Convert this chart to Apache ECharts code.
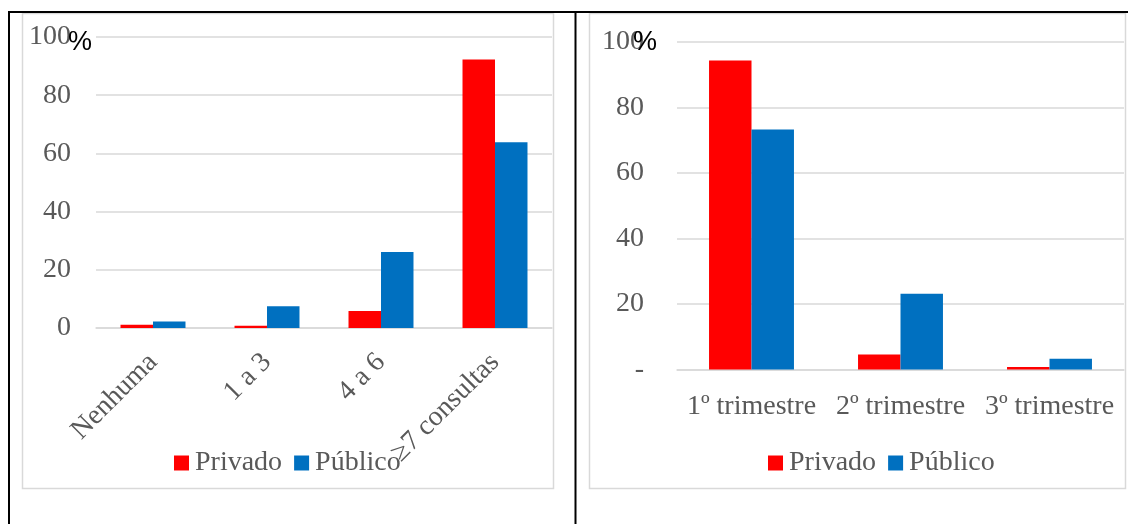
<!DOCTYPE html>
<html>
<head>
<meta charset="utf-8">
<script src="https://cdn.jsdelivr.net/npm/echarts@6/dist/echarts.min.js"></script>
<style>
  html, body { margin: 0; padding: 0; background: #ffffff; }
  #chart { width: 1128px; height: 524px; }
</style>
</head>
<body>
<div id="chart"></div>
<script>
// Number of prenatal consultations, by sector (%)
const consultasCats = ['Nenhuma', '1 a 3', '4 a 6', '≥7 consultas'];
const consultasPrivado = [1.1, 0.8, 5.8, 92.3];
const consultasPublico = [2.2, 7.5, 26.1, 63.8];

// Trimester of the first consultation, by sector (%)
const trimCats = ['1º trimestre', '2º trimestre', '3º trimestre'];
const trimPrivado = [94.3, 4.6, 0.8];
const trimPublico = [73.2, 23.1, 3.3];

const seriesNames = ['Privado', 'Público'];
const yTicks = [0, 20, 40, 60, 80, 100];

const RED = '#FF0000';
const BLUE = '#0070C0';
const GREY_TEXT = '#595959';
const GRID_LINE = '#D9D9D9';
const SERIF = '"Liberation Serif", "Times New Roman", serif';

const chart = echarts.init(document.getElementById('chart'), null, { renderer: 'canvas' });

function valueAxis(gridIndex, zeroLabel, margin) {
  return {
    type: 'value', gridIndex: gridIndex,
    min: yTicks[0], max: yTicks[yTicks.length - 1], interval: yTicks[1] - yTicks[0],
    axisLine: { show: false }, axisTick: { show: false },
    splitLine: { lineStyle: { color: GRID_LINE, width: 1.5 } },
    axisLabel: {
      color: GREY_TEXT, fontFamily: SERIF, fontSize: 28, margin: margin,
      formatter: v => (v === 0 ? zeroLabel : String(v))
    }
  };
}

function categoryAxis(gridIndex, data, rotate, margin) {
  return {
    type: 'category', gridIndex: gridIndex, data: data,
    axisLine: { lineStyle: { color: GRID_LINE, width: 1.5 } },
    axisTick: { show: false },
    axisLabel: {
      color: GREY_TEXT, fontFamily: SERIF, fontSize: 28, margin: margin,
      rotate: rotate, interval: 0
    }
  };
}

function barSeries(name, color, idx, data) {
  return {
    type: 'bar', name: name, xAxisIndex: idx, yAxisIndex: idx, data: data,
    barGap: '0%', barCategoryGap: '43%',
    itemStyle: { color: color },
    emphasis: { disabled: true }
  };
}

function legendAt(left, top) {
  return {
    left: left, top: top, data: seriesNames, padding: 0,
    icon: 'rect', itemWidth: 15, itemHeight: 15, itemGap: 12,
    selectedMode: false,
    textStyle: { color: GREY_TEXT, fontFamily: SERIF, fontSize: 28, padding: [0, 0, 0, 1] }
  };
}

const percentText = (x, y) => ({
  type: 'text', left: x, top: y, z: 100,
  style: { text: '%', fill: '#000000', fontSize: 27, fontFamily: '"Liberation Sans", Arial, sans-serif' }
});

chart.setOption({
  animation: false,
  backgroundColor: '#ffffff',
  color: [RED, BLUE],
  grid: [
    { left: 96, top: 37, width: 456, height: 291 },
    { left: 677, top: 41.7, width: 447, height: 327.8 }
  ],
  xAxis: [
    categoryAxis(0, consultasCats, 45, 30),
    categoryAxis(1, trimCats, 0, 23)
  ],
  yAxis: [
    valueAxis(0, '0', 25),
    valueAxis(1, '-', 33)
  ],
  legend: [legendAt(174, 449), legendAt(768, 449)],
  series: [
    barSeries(seriesNames[0], RED, 0, consultasPrivado),
    barSeries(seriesNames[1], BLUE, 0, consultasPublico),
    barSeries(seriesNames[0], RED, 1, trimPrivado),
    barSeries(seriesNames[1], BLUE, 1, trimPublico)
  ],
  graphic: [
    // table rules
    { type: 'rect', shape: { x: 8, y: 11, width: 1120, height: 2 }, style: { fill: '#000' } },
    { type: 'rect', shape: { x: 8, y: 11, width: 2, height: 513 }, style: { fill: '#000' } },
    { type: 'rect', shape: { x: 574.5, y: 11, width: 2, height: 513 }, style: { fill: '#000' } },
    // chart frames
    { type: 'rect', z: -1, shape: { x: 22.5, y: 13.5, width: 531, height: 475 },
      style: { fill: 'none', stroke: GRID_LINE, lineWidth: 1.5 } },
    { type: 'rect', z: -1, shape: { x: 589.5, y: 13.5, width: 536, height: 475 },
      style: { fill: 'none', stroke: GRID_LINE, lineWidth: 1.5 } },
    // unit marks beside the top tick
    percentText(68, 29),
    percentText(633, 29)
  ]
});
</script>
</body>
</html>
